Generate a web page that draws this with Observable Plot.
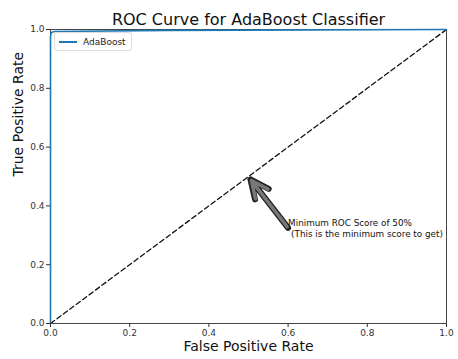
<!DOCTYPE html>
<html>
<head>
<meta charset="utf-8">
<script src="https://cdn.jsdelivr.net/npm/d3@7"></script>
<script src="https://cdn.jsdelivr.net/npm/@observablehq/plot@0.6"></script>
<style>
  body { margin: 0; background: #fff; font-family: "DejaVu Sans", sans-serif; }
  #wrap { position: relative; width: 458px; height: 359px; }
  #legend { position: absolute; left: 54px; top: 32px; width: 76px; height: 17px; border: 1px solid #ddd; border-radius: 3px; background: #fff; font-size: 9px; color: #222; display: flex; align-items: center; }
  #legend .sw { display: inline-block; width: 18px; height: 2px; background: #1f77b4; margin: 0 6px 0 4px; }
</style>
</head>
<body>
<div id="wrap"></div>
<script>
const fpr = [0, 0, 0.002, 0.01, 0.3, 1];
const tpr = [0, 0.975, 0.99, 0.993, 0.997, 1];
const diagX = [0, 1];
const diagY = [0, 1];
const ticks = [0, 0.2, 0.4, 0.6, 0.8, 1.0];
const titleText = "ROC Curve for AdaBoost Classifier";
const xLabel = "False Positive Rate";
const yLabel = "True Positive Rate";
const seriesName = "AdaBoost";
const annoLine1 = "Minimum ROC Score of 50%";
const annoLine2 = "(This is the minimum score to get)";
const arrowFrom = [0.6, 0.325];
const arrowTo = [0.505, 0.49];

const roc = fpr.map((x, i) => ({x, y: tpr[i]}));
const diag = diagX.map((x, i) => ({x, y: diagY[i]}));
const arrowData = [{x1: arrowFrom[0], y1: arrowFrom[1], x2: arrowTo[0], y2: arrowTo[1]}];
const anchor = [{x: arrowFrom[0], y: arrowFrom[1]}];

const chart = Plot.plot({
  width: 458,
  height: 359,
  marginLeft: 50,
  marginRight: 12,
  marginTop: 29,
  marginBottom: 36,
  style: {fontFamily: "DejaVu Sans, sans-serif", background: "#fff"},
  x: {domain: [0, 1], ticks: ticks, tickFormat: d3.format(".1f"), label: null},
  y: {domain: [0, 1], ticks: ticks, tickFormat: d3.format(".1f"), label: null},
  marks: [
    Plot.frame({stroke: "#444", strokeWidth: 1}),
    Plot.line(diag, {x: "x", y: "y", stroke: "#111", strokeWidth: 1.3, strokeDasharray: "5,3"}),
    Plot.line(roc, {x: "x", y: "y", stroke: "#1f77b4", strokeWidth: 1.6}),
    Plot.axisX({ticks: ticks, tickFormat: d3.format(".1f"), tickSize: 4, tickPadding: 2, fontSize: 9, color: "#333", label: null}),
    Plot.axisY({ticks: ticks, tickFormat: d3.format(".1f"), tickSize: 4, tickPadding: 2, fontSize: 9, color: "#333", label: null}),
    Plot.arrow(arrowData, {x1: "x1", y1: "y1", x2: "x2", y2: "y2", stroke: "#222", strokeWidth: 6, headLength: 10, headAngle: 50}),
    Plot.arrow(arrowData, {x1: "x1", y1: "y1", x2: "x2", y2: "y2", stroke: "#777", strokeWidth: 3.5, headLength: 8, headAngle: 50, inset: 1.5}),
    Plot.text(anchor, {x: "x", y: "y", text: () => annoLine1, textAnchor: "start", dy: -5, fontSize: 8.8, fill: "#111"}),
    Plot.text(anchor, {x: "x", y: "y", text: () => annoLine2, textAnchor: "start", dx: 3, dy: 6, fontSize: 8.8, fill: "#111"}),
    Plot.text([titleText], {frameAnchor: "top", dy: -16, fontSize: 16, fill: "#111"}),
    Plot.text([xLabel], {frameAnchor: "bottom", dy: 27, fontSize: 14, fill: "#111"}),
    Plot.text([yLabel], {frameAnchor: "left", dx: -32, rotate: -90, fontSize: 14, fill: "#111"})
  ]
});
const wrap = document.getElementById("wrap");
wrap.appendChild(chart);
const lg = document.createElement("div");
lg.id = "legend";
lg.innerHTML = '<span class="sw"></span><span></span>';
lg.lastChild.textContent = seriesName;
wrap.appendChild(lg);
</script>
</body>
</html>
